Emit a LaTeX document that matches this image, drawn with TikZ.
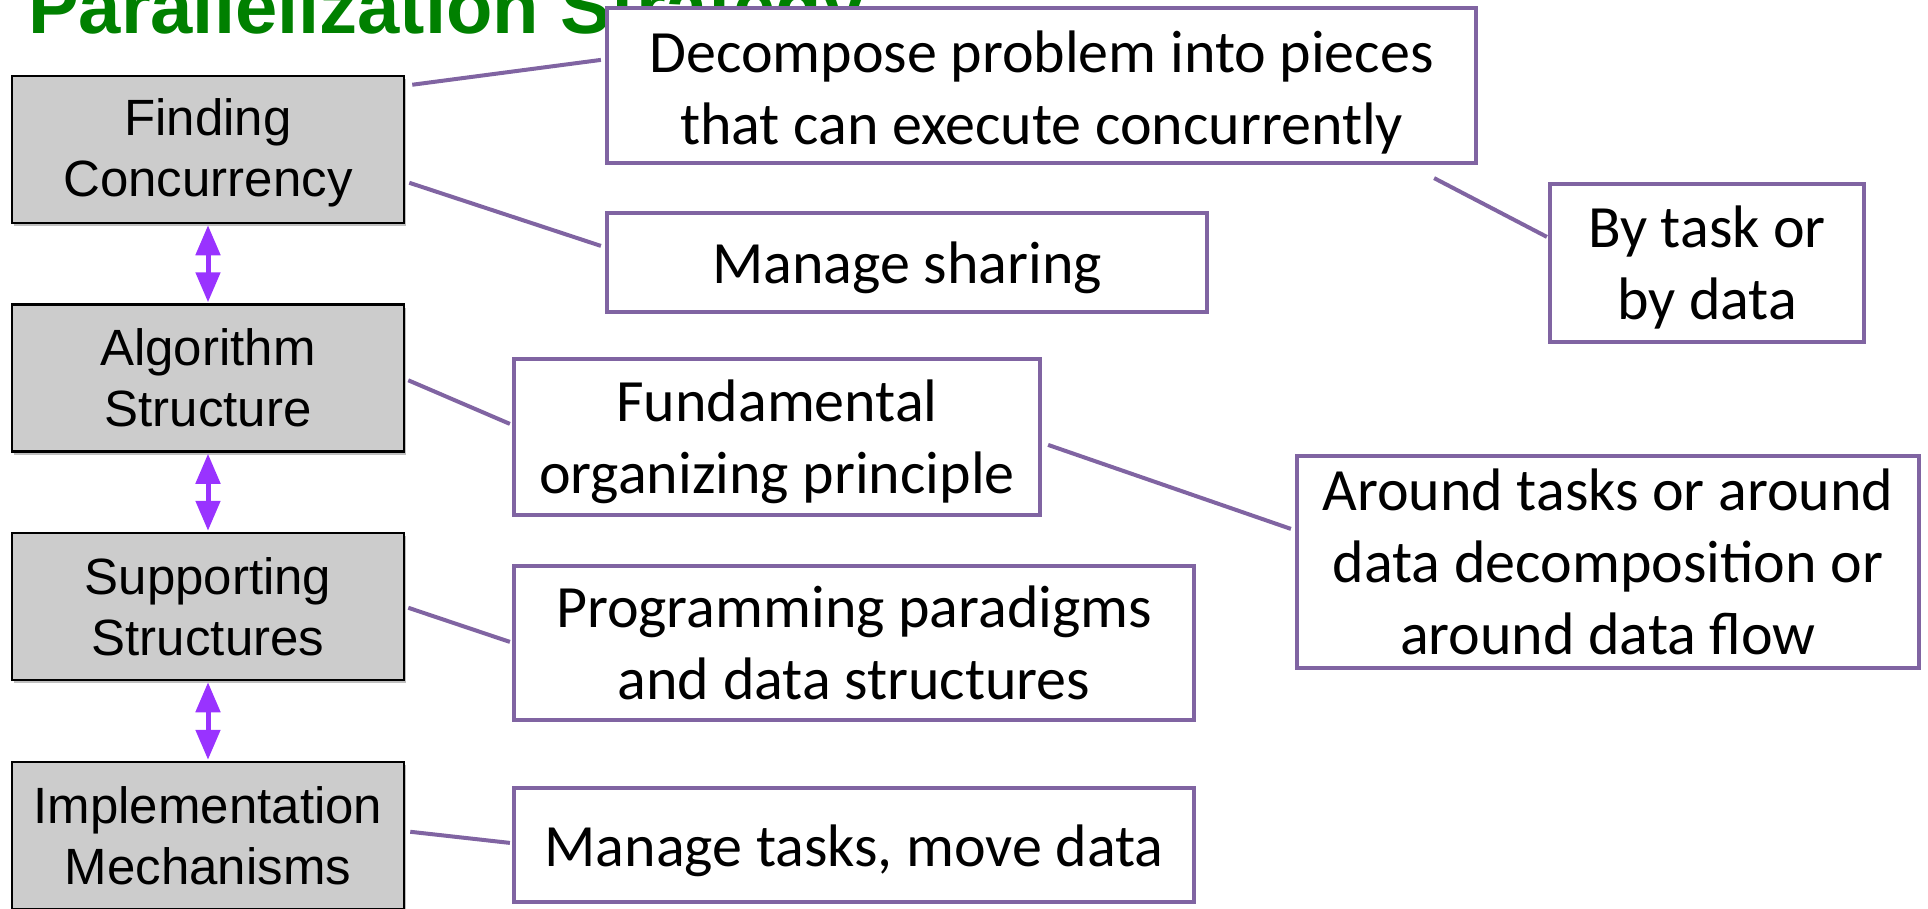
\documentclass[tikz,border=0pt]{standalone}
\usepackage{fontspec}
\setmainfont{Liberation Sans}
\newfontfamily\calfont{Carlito}
\usetikzlibrary{arrows.meta,shadows}
\definecolor{titlegreen}{RGB}{0,128,0}
\definecolor{boxpurple}{RGB}{128,100,162}
\definecolor{arrowviolet}{RGB}{153,51,255}
\definecolor{boxgray}{RGB}{204,204,204}
\newcommand\lowstrut[1]{\rule{0pt}{#1}}
\begin{document}
\begin{tikzpicture}[x=1pt,y=-1pt,
  graybox/.style={draw=black, line width=2.5pt, fill=boxgray,
    minimum width=392pt, minimum height=147pt, align=center, inner sep=0pt,
    font=\fontsize{51}{61}\selectfont,
    drop shadow={shadow xshift=2pt,shadow yshift=-3pt,opacity=0.25,fill=black}},
  pbox/.style={draw=boxpurple, line width=4.2pt, fill=white, align=center,
    inner sep=0pt, font=\calfont\fontsize{60}{72}\selectfont},
  conn/.style={draw=boxpurple, line width=4pt},
  darrow/.style={draw=arrowviolet, line width=5pt, shorten <=1pt, shorten >=1pt,
    {Triangle[length=30pt,width=24pt]}-{Triangle[length=30pt,width=24pt]}}]
\useasboundingbox (0,0) rectangle (1928,908);
\clip (0,0) rectangle (1928,908);

% title (partly cut off and partly hidden)
\node[anchor=base west, inner sep=0pt, text=titlegreen,
  font=\bfseries\fontsize{76}{80}\selectfont] (title) at (28,33) {Parallelization Strategy};

% left column
\node[graybox] (fc) at (208,149.5) {\lowstrut{44pt}Finding\\Concurrency};
\node[graybox] (as) at (208,378) {Algorithm\\Structure};
\node[graybox] (ss) at (208,606.5) {Supporting\\Structures};
\node[graybox] (im) at (208,835.5) {Implementation\\Mechanisms};

\draw[darrow] (fc.south) -- (as.north);
\draw[darrow] (as.south) -- (ss.north);
\draw[darrow] (ss.south) -- (im.north);

% description boxes
\node[pbox, minimum width=869pt, minimum height=155pt] (dec) at (1041.5,85.5)
  {\lowstrut{55pt}Decompose problem into pieces\\that can execute concurrently};
\node[pbox, minimum width=600pt, minimum height=99pt] (share) at (907,262.5)
  {\lowstrut{53pt}Manage sharing};
\node[pbox, minimum width=314pt, minimum height=158pt] (bytask) at (1707,263)
  {\lowstrut{51pt}By task or\\by data};
\node[pbox, minimum width=526pt, minimum height=156pt] (fund) at (777,437)
  {\lowstrut{51pt}Fundamental\\organizing principle};
\node[pbox, minimum width=622pt, minimum height=212pt] (around) at (1608,562)
  {Around tasks or around\\data decomposition or\\around data flow};
\node[pbox, minimum width=680pt, minimum height=154pt] (prog) at (854,643)
  {Programming paradigms\\and data structures};
\node[pbox, minimum width=680pt, minimum height=114pt] (manage) at (854,845)
  {\lowstrut{53pt}Manage tasks, move data};

% connectors
\coordinate (dtail) at ([shift={(-44,13)}]dec.south east);
\draw[conn] ([shift={(7,10)}]fc.north east) -- ([shift={(-4,54)}]dec.north west);
\draw[conn] ([shift={(4,108)}]fc.north east) -- ([shift={(-4,35)}]share.north west);
\draw[conn] (dtail) -- ([shift={(-1,55)}]bytask.north west);
\draw[conn] ([shift={(3,77)}]as.north east) -- ([shift={(-2,67)}]fund.north west);
\draw[conn] ([shift={(6,88)}]fund.north east) -- ([shift={(-4,75)}]around.north west);
\draw[conn] ([shift={(3,76)}]ss.north east) -- ([shift={(-2,78)}]prog.north west);
\draw[conn] ([shift={(5,71)}]im.north east) -- ([shift={(-2,57)}]manage.north west);
\end{tikzpicture}
\end{document}
